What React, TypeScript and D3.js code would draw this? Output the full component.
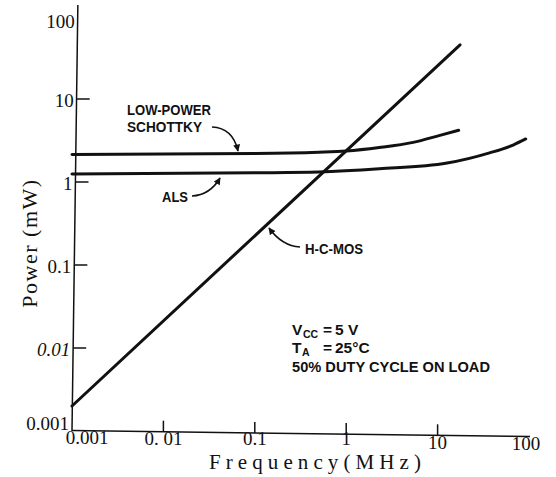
import React from 'react';
import * as d3 from 'd3';

const W = 556;
const H = 477;

// Tick values and labels (log axes, mW vs MHz)
const xTickValues = [0.001, 0.01, 0.1, 1, 10, 100];
const xTickLabels = ['0.001', '0. 01', '0.1', '1', '10', '100'];
const yTickValues = [100, 10, 1, 0.1, 0.01, 0.001];
const yTickLabels = ['100', '10', '1', '0.1', '0.01', '0.001'];

// Series: [frequency MHz, power mW]
const lowPowerSchottky: [number, number][] = [
  [0.001, 2.15], [0.1, 2.2], [0.5, 2.28], [1, 2.36], [2.3, 2.6], [5.4, 3.0], [10.6, 3.65], [17, 4.2],
];
const als: [number, number][] = [
  [0.001, 1.25], [0.1, 1.29], [0.5, 1.32], [2.3, 1.44], [12.7, 1.69], [37, 2.24], [67, 2.79], [92, 3.3],
];
const hcmos: [number, number][] = [
  [0.001, 0.002], [17.6, 45],
];

const conditionLines = ['50% DUTY CYCLE ON LOAD'];

export default function App() {
  const x = d3.scaleLog().domain([0.001, 100]).range([72, 529]);
  const y = d3.scaleLog().domain([0.001, 100]).range([431, 16]);

  // slightly skewed axes as in the scanned drawing
  const axX = (py: number) => 72 + (431 - py) * (6 / 426);
  const axY = (px: number) => 430.5 + (px - 72) * (6 / 457);

  const line = d3
    .line<[number, number]>()
    .x((d) => x(d[0]))
    .y((d) => y(d[1]))
    .curve(d3.curveMonotoneX);

  const serif = "'Liberation Serif', 'Times New Roman', serif";
  const sans = "'Liberation Sans', Arial, sans-serif";
  const ink = '#111';

  const x0 = 292;

  return (
    <svg
      width={W}
      height={H}
      viewBox={`0 0 ${W} ${H}`}
      style={{ position: 'absolute', left: 0, top: 0, background: '#fff' }}
    >
      <defs>
        <marker
          id="ah"
          viewBox="0 0 10 10"
          refX="9"
          refY="5"
          markerWidth="8"
          markerHeight="7"
          markerUnits="userSpaceOnUse"
          orient="auto"
        >
          <path d="M0,0 L10,5 L0,10 z" fill={ink} />
        </marker>
      </defs>
      <rect x={0} y={0} width={W} height={H} fill="#fff" />

      {/* axes */}
      <line x1={axX(y(100))} y1={5} x2={axX(y(0.001))} y2={y(0.001)} stroke={ink} strokeWidth={1.5} />
      <line x1={x(0.001)} y1={axY(x(0.001))} x2={x(100) + 1} y2={axY(x(100) + 1)} stroke={ink} strokeWidth={1.5} />

      {/* y ticks */}
      {yTickValues.map((v, i) => {
        const py = y(v);
        const ax = axX(py);
        const inner = i > 0 && i < yTickValues.length - 1;
        const dy = i === 0 ? 5.5 : i === yTickValues.length - 1 ? -7.5 : 1.5;
        return (
          <g key={'y' + v}>
            {inner && <line x1={ax} y1={py} x2={ax + 13} y2={py} stroke={ink} strokeWidth={1.5} />}
            <text
              x={ax - 3}
              y={py + dy}
              textAnchor="end"
              dominantBaseline="central"
              fontFamily={serif}
              fontSize={19}
              fontStyle={v === 0.01 ? 'italic' : 'normal'}
              fill={ink}
            >
              {yTickLabels[i]}
            </text>
          </g>
        );
      })}

      {/* x ticks */}
      {xTickValues.map((v, i) => {
        const px = x(v);
        const ay = axY(px);
        const inner = i > 0 && i < xTickValues.length - 1;
        const last = i === xTickValues.length - 1;
        const dx = i === 0 ? 15 : last ? -3 : 0;
        const base = px < 430 ? Math.min(ay + 13.5, 445) : ay + 13.5;
        return (
          <g key={'x' + v}>
            {inner && <line x1={px} y1={ay} x2={px} y2={ay - 11} stroke={ink} strokeWidth={1.5} />}
            <text x={px + dx} y={base} textAnchor="middle" fontFamily={serif} fontSize={19} fill={ink}>
              {xTickLabels[i]}
            </text>
          </g>
        );
      })}

      {/* axis titles */}
      <text x={209} y={469} fontFamily={serif} fontSize={21} textLength={212} lengthAdjust="spacing" fill={ink}>
        Frequency(MHz)
      </text>
      <text
        transform="translate(37,243) rotate(-90)"
        textAnchor="middle"
        fontFamily={serif}
        fontSize={22}
        letterSpacing={1.5}
        fill={ink}
      >
        Power (mW)
      </text>

      {/* curves */}
      <path d={line(lowPowerSchottky) || ''} fill="none" stroke={ink} strokeWidth={3} strokeLinecap="round" />
      <path d={line(als) || ''} fill="none" stroke={ink} strokeWidth={3} strokeLinecap="round" />
      <path d={line(hcmos) || ''} fill="none" stroke={ink} strokeWidth={3} strokeLinecap="round" />

      {/* annotations */}
      <g fontFamily={sans} fontWeight="bold" fill={ink}>
        <text x={127} y={115} fontSize={14} textLength={84} lengthAdjust="spacingAndGlyphs">LOW-POWER</text>
        <text x={127} y={132} fontSize={14} textLength={75} lengthAdjust="spacingAndGlyphs">SCHOTTKY</text>
        <text x={162} y={202} fontSize={15} textLength={26} lengthAdjust="spacingAndGlyphs">ALS</text>
        <text x={305} y={254} fontSize={15} textLength={58} lengthAdjust="spacingAndGlyphs">H-C-MOS</text>

        <text x={x0} y={335} fontSize={15.5}>V</text>
        <text x={x0 + 11} y={338} fontSize={10.5}>CC</text>
        <text x={x0 + 31} y={335} fontSize={15.5}>=</text>
        <text x={x0 + 43} y={335} fontSize={15.5}>5 V</text>

        <text x={x0} y={353} fontSize={15.5}>T</text>
        <text x={x0 + 10} y={356} fontSize={10.5}>A</text>
        <text x={x0 + 31} y={353} fontSize={15.5}>=</text>
        <text x={x0 + 43} y={353} fontSize={15.5}>25°C</text>

        {conditionLines.map((t, i) => (
          <text key={t} x={x0} y={372 + i * 18} fontSize={15.5} textLength={198} lengthAdjust="spacingAndGlyphs">
            {t}
          </text>
        ))}
      </g>
      <g fill="none" stroke={ink} strokeWidth={1.6}>
        <path d="M212,127 Q233,128 238,151" markerEnd="url(#ah)" />
        <path d="M192,196 Q210,195 220,178" markerEnd="url(#ah)" />
        <path d="M300,247 Q282,246 269,228" markerEnd="url(#ah)" />
      </g>
    </svg>
  );
}
